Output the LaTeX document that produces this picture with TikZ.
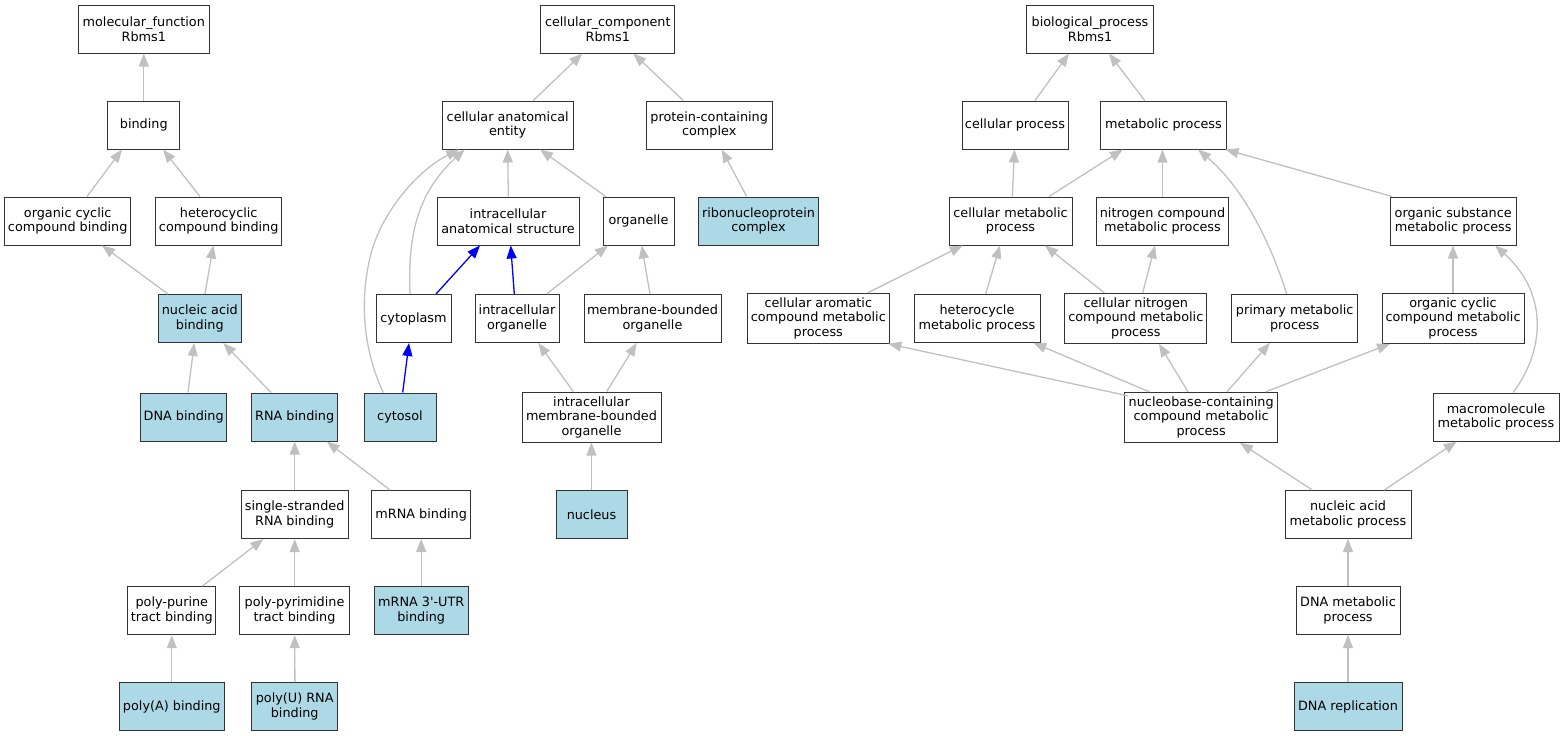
\documentclass[tikz,border=0pt]{standalone}
\usepackage{fontspec}
\setmainfont{DejaVu Sans}
\newfontfamily\dejavu{DejaVu Sans}
\usetikzlibrary{arrows.meta}
\definecolor{edgegray}{HTML}{C0C0C0}
\definecolor{lblue}{HTML}{ADD8E6}
\begin{document}
\begin{tikzpicture}[x=1pt,y=-1pt,
  box/.style={draw=black!80,line width=1pt,fill=white,rectangle,inner sep=0pt,align=center,
    minimum height=48pt,font=\dejavu\fontsize{12.8}{14.5}\selectfont},
  hit/.style={box,fill=lblue},
  edge/.style={draw=edgegray,line width=1.3pt,-{Triangle[length=13pt,width=10pt]}},
  bedge/.style={draw=blue,line width=1.3pt,-{Triangle[length=13pt,width=10pt]}}]
\useasboundingbox (0,0) rectangle (1564,736);
% ---------------- molecular function
\node[box,minimum width=131pt] (mf) at (143.8,29) {molecular\_function\\Rbms1};
\node[box,minimum width=72pt] (bind) at (143.8,125) {binding};
\node[box,minimum width=126pt] (ocb) at (67.7,221) {organic cyclic\\compound binding};
\node[box,minimum width=126pt] (hcb) at (218.7,221) {heterocyclic\\compound binding};
\node[hit,minimum width=83pt] (nab) at (199.8,318.5) {nucleic acid\\binding};
\node[hit,minimum width=86pt] (dnab) at (183.7,417) {DNA binding};
\node[hit,minimum width=86pt] (rnab) at (294.7,417) {RNA binding};
\node[box,minimum width=107pt] (ssrb) at (294.7,514.5) {single-stranded\\RNA binding};
\node[box,minimum width=99pt] (mrnab) at (421.2,514.5) {mRNA binding};
\node[box,minimum width=88pt] (ppt) at (171.8,610.7) {poly-purine\\tract binding};
\node[box,minimum width=110pt] (ppyt) at (294.5,610.7) {poly-pyrimidine\\tract binding};
\node[hit,minimum width=94pt] (utr) at (421.2,610.7) {mRNA 3'-UTR\\binding};
\node[hit,minimum width=105pt] (polya) at (171.8,706.7) {poly(A) binding};
\node[hit,minimum width=86pt] (polyu) at (294.7,706.7) {poly(U) RNA\\binding};
% ---------------- cellular component
\node[box,minimum width=134pt] (cc) at (607.8,29) {cellular\_component\\Rbms1};
\node[box,minimum width=131pt] (cae) at (507.7,125) {cellular anatomical\\entity};
\node[box,minimum width=126pt] (pcc) at (709.2,125) {protein-containing\\complex};
\node[box,minimum width=142pt] (ias) at (508,221) {intracellular\\anatomical structure};
\node[box,minimum width=71pt] (org) at (638.5,221) {organelle};
\node[hit,minimum width=120pt] (rnp) at (758.5,221) {ribonucleoprotein\\complex};
\node[box,minimum width=75pt] (cyto) at (413.5,318.5) {cytoplasm};
\node[box,minimum width=84pt] (io) at (517,318.5) {intracellular\\organelle};
\node[box,minimum width=137pt] (mbo) at (652.5,318.5) {membrane-bounded\\organelle};
\node[hit,minimum width=72pt] (cytosol) at (400,417) {cytosol};
\node[box,minimum width=139pt,minimum height=50pt] (imbo) at (591.5,417) {intracellular\\membrane-bounded\\organelle};
\node[hit,minimum width=71pt] (nucleus) at (591.5,514.5) {nucleus};
% ---------------- biological process
\node[box,minimum width=127pt] (bp) at (1090,29) {biological\_process\\Rbms1};
\node[box,minimum width=106pt] (cpr) at (1015,125) {cellular process};
\node[box,minimum width=126pt] (mp) at (1163.5,125) {metabolic process};
\node[box,minimum width=123pt] (cmp) at (1010.5,221) {cellular metabolic\\process};
\node[box,minimum width=132pt] (ncmp) at (1162.5,221) {nitrogen compound\\metabolic process};
\node[box,minimum width=126pt] (osmp) at (1453.2,221) {organic substance\\metabolic process};
\node[box,minimum width=142pt,minimum height=50pt] (camp) at (818.3,318.3) {cellular aromatic\\compound metabolic\\process};
\node[box,minimum width=126pt] (hmp) at (977,318.3) {heterocycle\\metabolic process};
\node[box,minimum width=142pt,minimum height=50pt] (cnmp) at (1135.8,318.3) {cellular nitrogen\\compound metabolic\\process};
\node[box,minimum width=126pt] (pmp) at (1294.7,318.3) {primary metabolic\\process};
\node[box,minimum width=142pt,minimum height=50pt] (ocmp) at (1453,318.3) {organic cyclic\\compound metabolic\\process};
\node[box,minimum width=153pt,minimum height=50pt] (nb) at (1201.2,417.3) {nucleobase-containing\\compound metabolic\\process};
\node[box,minimum width=126pt] (mmp) at (1496,417) {macromolecule\\metabolic process};
\node[box,minimum width=126pt] (namp) at (1348,514.5) {nucleic acid\\metabolic process};
\node[box,minimum width=104pt] (dmp) at (1348,610.5) {DNA metabolic\\process};
\node[hit,minimum width=108pt] (dr) at (1348,706.7) {DNA replication};
% ---------------- edges MF
\draw[edge] (bind.north) -- (mf.south);
\draw[edge] ([xshift=19.3pt]ocb.north) -- ([xshift=-21.8pt]bind.south);
\draw[edge] ([xshift=-18.7pt]hcb.north) -- ([xshift=19.2pt]bind.south);
\draw[edge] ([xshift=-31.8pt]nab.north) -- ([xshift=34.3pt]ocb.south);
\draw[edge] ([xshift=5.2pt]nab.north) -- ([xshift=-5.4pt]hcb.south);
\draw[edge] ([xshift=4.3pt]dnab.north) -- ([xshift=-5.5pt]nab.south);
\draw[edge] ([xshift=-23.7pt]rnab.north) -- ([xshift=23.5pt]nab.south);
\draw[edge] (ssrb.north) -- (rnab.south);
\draw[edge] ([xshift=-31.2pt]mrnab.north) -- ([xshift=32pt]rnab.south);
\draw[edge] ([xshift=30.5pt]ppt.north) -- ([xshift=-31.4pt]ssrb.south);
\draw[edge] ([xshift=0.2pt]ppyt.north) -- (ssrb.south);
\draw[edge] (utr.north) -- (mrnab.south);
\draw[edge] (polya.north) -- (ppt.south);
\draw[edge] ([xshift=0.2pt]polyu.north) -- ([xshift=0.2pt]ppyt.south);
% ---------------- edges CC
\draw[edge] ([xshift=25.6pt]cae.north) -- ([xshift=-25.5pt]cc.south);
\draw[edge] ([xshift=-25.9pt]pcc.north) -- ([xshift=25.5pt]cc.south);
\draw[edge] ([xshift=0.3pt]ias.north) -- (cae.south);
\draw[edge] ([xshift=-32.8pt]org.north) -- ([xshift=32.3pt]cae.south);
\draw[edge] ([xshift=-11.8pt]rnp.north) -- ([xshift=12.5pt]pcc.south);
\draw[edge] ([xshift=-3.5pt]cyto.north) .. controls (408,240) and (415,195) .. ([xshift=-43pt]cae.south);
\draw[edge] ([xshift=-16.7pt]cytosol.north) .. controls (364,352) and (358,300) .. (372,250)
   .. controls (384,210) and (418,170) .. ([xshift=-48.5pt]cae.south);
\draw[bedge] ([xshift=22.5pt]cyto.north) -- ([xshift=-28pt]ias.south);
\draw[bedge] ([xshift=-2.7pt]io.north) -- ([xshift=2.7pt]ias.south);
\draw[edge] ([xshift=29.7pt]io.north) -- ([xshift=-30.5pt]org.south);
\draw[edge] ([xshift=-2.5pt]mbo.north) -- ([xshift=3.2pt]org.south);
\draw[bedge] ([xshift=2.7pt]cytosol.north) -- ([xshift=-4.5pt]cyto.south);
\draw[edge] ([xshift=-18.2pt]imbo.north) -- ([xshift=21.3pt]io.south);
\draw[edge] ([xshift=15.2pt]imbo.north) -- ([xshift=-15.8pt]mbo.south);
\draw[edge] (nucleus.north) -- (imbo.south);
% ---------------- edges BP
\draw[edge] ([xshift=20pt]cpr.north) -- ([xshift=-21pt]bp.south);
\draw[edge] ([xshift=-18.8pt]mp.north) -- ([xshift=19pt]bp.south);
\draw[edge] ([xshift=1.8pt]cmp.north) -- ([xshift=-0.5pt]cpr.south);
\draw[edge] ([xshift=38.5pt]cmp.north) -- ([xshift=-40.7pt]mp.south);
\draw[edge] (ncmp.north) -- ([xshift=-1pt]mp.south);
\draw[edge] ([xshift=-8pt]pmp.north) .. controls (1268,235) and (1240,185) .. ([xshift=34.5pt]mp.south);
\draw[edge] ([xshift=-61pt]osmp.north) -- ([xshift=62pt]mp.south);
\draw[edge] ([xshift=49.4pt]camp.north) -- ([xshift=-47.8pt]cmp.south);
\draw[edge] ([xshift=8.7pt]hmp.north) -- ([xshift=-10.5pt]cmp.south);
\draw[edge] ([xshift=-31.5pt]cnmp.north) -- ([xshift=34.5pt]cmp.south);
\draw[edge] ([xshift=6.9pt]cnmp.north) -- ([xshift=-7.5pt]ncmp.south);
\draw[edge] (ocmp.north) -- ([xshift=-0.2pt]osmp.south);
\draw[edge] ([xshift=17.3pt]mmp.north) .. controls (1548,345) and (1545,290) .. ([xshift=41.8pt]osmp.south);
\draw[edge] ([xshift=-73.2pt,yshift=-4pt]nb.north) -- ([xshift=70pt]camp.south);
\draw[edge] ([xshift=-51.8pt]nb.north) -- ([xshift=56.3pt]hmp.south);
\draw[edge] ([xshift=-13.2pt]nb.north) -- ([xshift=23.2pt]cnmp.south);
\draw[edge] ([xshift=25.8pt]nb.north) -- ([xshift=-24.7pt]pmp.south);
\draw[edge] ([xshift=64.4pt]nb.north) -- ([xshift=-63pt]ocmp.south);
\draw[edge] ([xshift=-35.7pt]namp.north) -- ([xshift=38.8pt]nb.south);
\draw[edge] ([xshift=36.3pt]namp.north) -- ([xshift=-39.3pt]mmp.south);
\draw[edge] (dmp.north) -- (namp.south);
\draw[edge] (dr.north) -- (dmp.south);
\end{tikzpicture}
\end{document}
